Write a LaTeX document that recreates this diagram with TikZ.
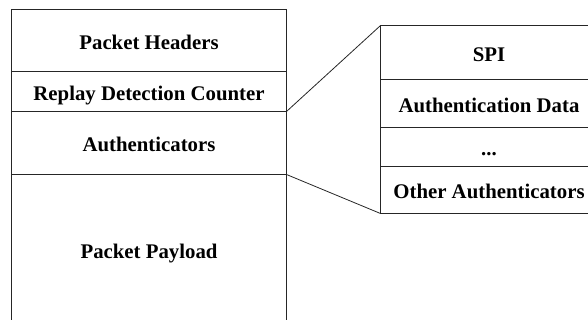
\documentclass[tikz,border=0pt]{standalone}
\usepackage{fontspec}
\setmainfont{Liberation Serif}
\begin{document}
\begin{tikzpicture}[x=1pt,y=-1pt,
  cell/.style={draw=black!85, line width=1pt, inner sep=0pt, outer sep=0pt,
    text height=19pt, text depth=2.2pt,
    font=\bfseries\fontsize{20.8}{24}\selectfont},
  link/.style={draw=black!85, line width=0.8pt}]
\useasboundingbox (0,0) rectangle (588,320);
\clip (0,0) rectangle (588,320);
% packet layout (left stack)
\node[cell, minimum width=275pt, minimum height=62.5pt] (hdr) at (149,40.75) {Packet Headers};
\node[cell, minimum width=275pt, minimum height=39.5pt] (rdc) at (149,91.75) {Replay Detection Counter};
\node[cell, minimum width=275pt, minimum height=63pt] (auth) at (149,143) {Authenticators};
\node[cell, minimum width=275pt, minimum height=151.5pt] (pay) at (149,250.25) {Packet Payload};
% expanded authenticator block (right stack)
\node[cell, minimum width=218pt, minimum height=54pt] (spi) at (489,53) {SPI};
\node[cell, minimum width=218pt, minimum height=47.3pt] (adata) at (489,103.65) {Authentication Data};
\node[cell, minimum width=218pt, minimum height=39.4pt] (dots) at (489,147) {...};
\node[cell, minimum width=218pt, minimum height=46.6pt] (oth) at (489,190) {Other Authenticators};
% zoom lines
\draw[link] (rdc.south east) -- (spi.north west);
\draw[link] (auth.south east) -- (oth.south west);
\end{tikzpicture}
\end{document}
